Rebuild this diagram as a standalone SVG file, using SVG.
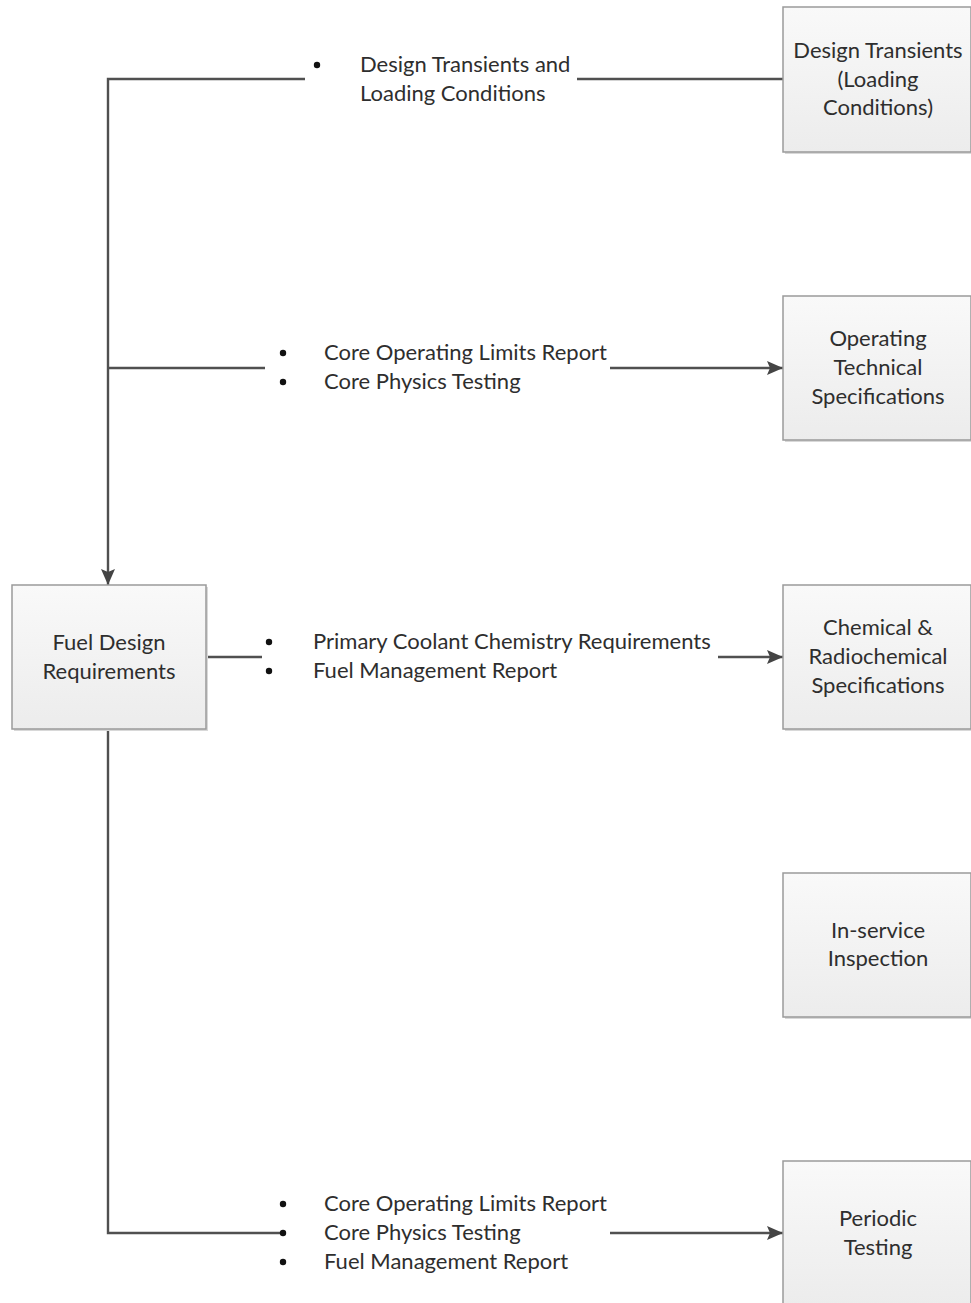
<svg xmlns="http://www.w3.org/2000/svg" width="971" height="1303" viewBox="0 0 971 1303">
<defs>
<linearGradient id="g" x1="0" y1="0" x2="0" y2="1">
<stop offset="0" stop-color="#f9f9f9"/>
<stop offset="1" stop-color="#ececec"/>
</linearGradient>
<marker id="arr" markerWidth="16" markerHeight="14" refX="16" refY="7" orient="auto" markerUnits="userSpaceOnUse" viewBox="0 0 16 14">
<path d="M0,0 L16,7 L0,14 L3,7 z" fill="#444"/>
</marker>
</defs>
<style>
.box{fill:url(#g);stroke:#9a9a9a;stroke-width:1.5}
.sh{fill:#d8d8d8}
.t{font-family:Lato,"Open Sans",sans-serif;font-size:22px;fill:#2e2e2e}
.c{text-anchor:middle}
.ln{fill:none;stroke:#505050;stroke-width:2.4}
.b{fill:#111}
</style>
<rect width="971" height="1303" fill="#fff"/>
<g id="connectors">
<path class="ln" d="M305,79 H108 V585" marker-end="url(#arr)"/>
<path class="ln" d="M577,79 H783"/>
<path class="ln" d="M265,368 H108"/>
<path class="ln" d="M610,368 H783" marker-end="url(#arr)"/>
<path class="ln" d="M206,657 H262"/>
<path class="ln" d="M718,657 H783" marker-end="url(#arr)"/>
<path class="ln" d="M108,729 V1233 H283"/>
<path class="ln" d="M610,1233 H783" marker-end="url(#arr)"/>
</g>
<g id="label1">
<circle class="b" cx="317" cy="65" r="3.2"/>
<text class="t" x="360" y="72">Design Transients and</text>
<text class="t" x="360" y="101">Loading Conditions</text>
</g>
<g id="label2">
<circle class="b" cx="283" cy="353" r="3.2"/>
<circle class="b" cx="283" cy="382" r="3.2"/>
<text class="t" x="324" y="360">Core Operating Limits Report</text>
<text class="t" x="324" y="389">Core Physics Testing</text>
</g>
<g id="label3">
<circle class="b" cx="269" cy="642" r="3.2"/>
<circle class="b" cx="269" cy="671" r="3.2"/>
<text class="t" x="313" y="649">Primary Coolant Chemistry Requirements</text>
<text class="t" x="313" y="678">Fuel Management Report</text>
</g>
<g id="label4">
<circle class="b" cx="283" cy="1204" r="3.2"/>
<circle class="b" cx="283" cy="1233" r="3.2"/>
<circle class="b" cx="283" cy="1262" r="3.2"/>
<text class="t" x="324" y="1211">Core Operating Limits Report</text>
<text class="t" x="324" y="1240">Core Physics Testing</text>
<text class="t" x="324" y="1269">Fuel Management Report</text>
</g>
<g id="fuel">
<rect class="sh" x="14" y="587" width="194" height="144"/>
<rect class="box" x="12" y="585" width="194" height="144"/>
<text class="t c" x="109" y="650">Fuel Design</text>
<text class="t c" x="109" y="679">Requirements</text>
</g>
<g id="design">
<rect class="sh" x="785" y="9" width="188" height="145"/>
<rect class="box" x="783" y="7" width="188" height="145"/>
<text class="t c" x="878" y="58">Design Transients</text>
<text class="t c" x="878" y="87">(Loading</text>
<text class="t c" x="878" y="115">Conditions)</text>
</g>
<g id="operating">
<rect class="sh" x="785" y="298" width="188" height="144"/>
<rect class="box" x="783" y="296" width="188" height="144"/>
<text class="t c" x="878" y="346">Operating</text>
<text class="t c" x="878" y="375">Technical</text>
<text class="t c" x="878" y="404">Specifications</text>
</g>
<g id="chemical">
<rect class="sh" x="785" y="587" width="188" height="144"/>
<rect class="box" x="783" y="585" width="188" height="144"/>
<text class="t c" x="878" y="635">Chemical &amp;</text>
<text class="t c" x="878" y="664">Radiochemical</text>
<text class="t c" x="878" y="693">Specifications</text>
</g>
<g id="inservice">
<rect class="sh" x="785" y="875" width="188" height="144"/>
<rect class="box" x="783" y="873" width="188" height="144"/>
<text class="t c" x="878" y="938">In-service</text>
<text class="t c" x="878" y="966">Inspection</text>
</g>
<g id="periodic">
<rect class="sh" x="785" y="1163" width="188" height="144"/>
<rect class="box" x="783" y="1161" width="188" height="144"/>
<text class="t c" x="878" y="1226">Periodic</text>
<text class="t c" x="878" y="1255">Testing</text>
</g>
</svg>
